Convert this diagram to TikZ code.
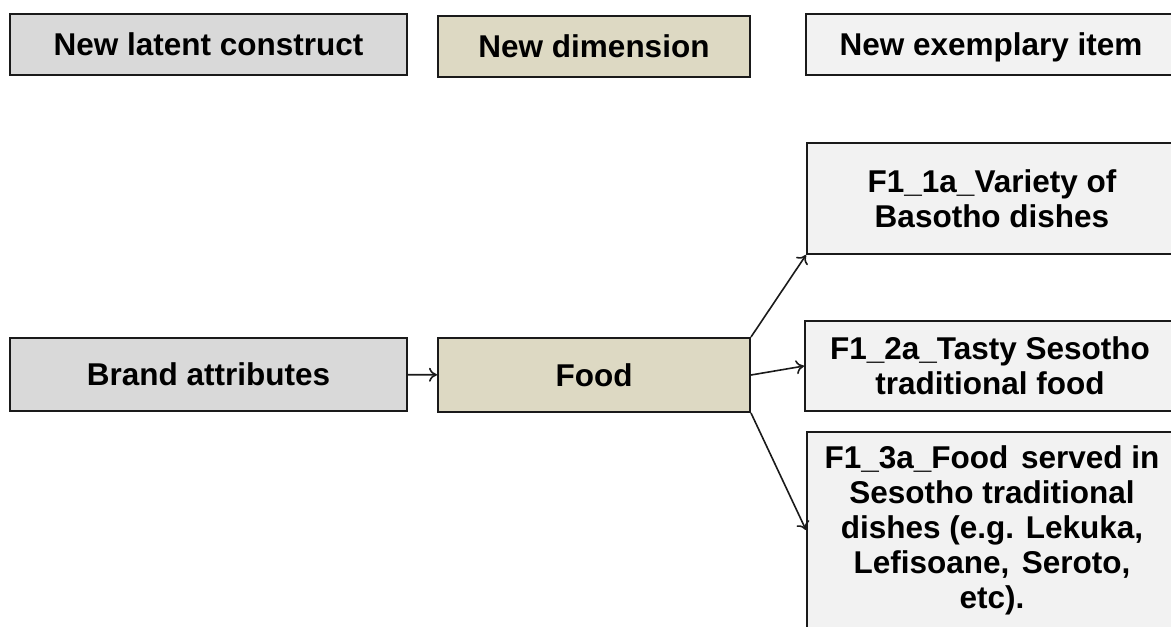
\documentclass[tikz,border=0pt]{standalone}
\usepackage{fontspec}
\setmainfont{Liberation Sans}
\usetikzlibrary{arrows.meta}

\definecolor{constructgray}{HTML}{D9D9D9}
\definecolor{dimtan}{HTML}{DDD9C3}
\definecolor{itemgray}{HTML}{F2F2F2}
\definecolor{edge}{HTML}{1A1A1A}

\begin{document}
\begin{tikzpicture}[x=0.5pt, y=-0.5pt,
  box/.style={draw=edge, line width=1pt, align=center, inner sep=0pt,
    font=\fontsize{15.75}{17.5}\selectfont\bfseries},
  oneline/.style={text height=11.3pt, text depth=0pt},
  construct/.style={box, fill=constructgray, minimum width=198.5pt},
  dimension/.style={box, fill=dimtan, minimum width=156pt},
  item/.style={box, fill=itemgray, minimum width=185pt},
  link/.style={-{To[length=4pt, width=7pt]}, draw=edge, line width=0.8pt}]
  \useasboundingbox (0,0) rectangle (1171,626);
  \clip (0,0) rectangle (1171,626);

  % legend
  \node[construct, oneline, minimum height=30.5pt] (leglatent) at (208.5,44.5) {New latent construct};
  \node[dimension, oneline, minimum height=30.5pt] (legdim) at (594,46.5) {New dimension};
  \node[item, oneline, minimum height=30.5pt] (legitem) at (991,44.5) {New exemplary item};

  % construct and dimension
  \node[construct, oneline, minimum height=36.5pt] (brand) at (208.5,374.5) {Brand attributes};
  \node[dimension, oneline, minimum height=37pt] (food) at (594,375) {Food};

  % items
  \node[item, minimum height=55.5pt] (item1) at (992,198.5)
    {F1\_1a\_Variety of\\Basotho dishes};
  \node[item, minimum height=45pt] (item2) at (990,366)
    {F1\_2a\_Tasty Sesotho\\traditional food};
  \node[item, minimum height=98pt] (item3) at (992,530)
    {F1\_3a\_Food\hspace{0.4em}served in\\Sesotho traditional\\dishes (e.g. Lekuka,\\Lefisoane,\hspace{0.4em}Seroto,\\etc).};

  \draw[link] (brand) -- (food);
  \draw[link] (food.north east) -- (item1.south west);
  \draw[link] (food.east) -- (item2.west);
  \draw[link] (food.south east) -- (item3.west);
\end{tikzpicture}
\end{document}
